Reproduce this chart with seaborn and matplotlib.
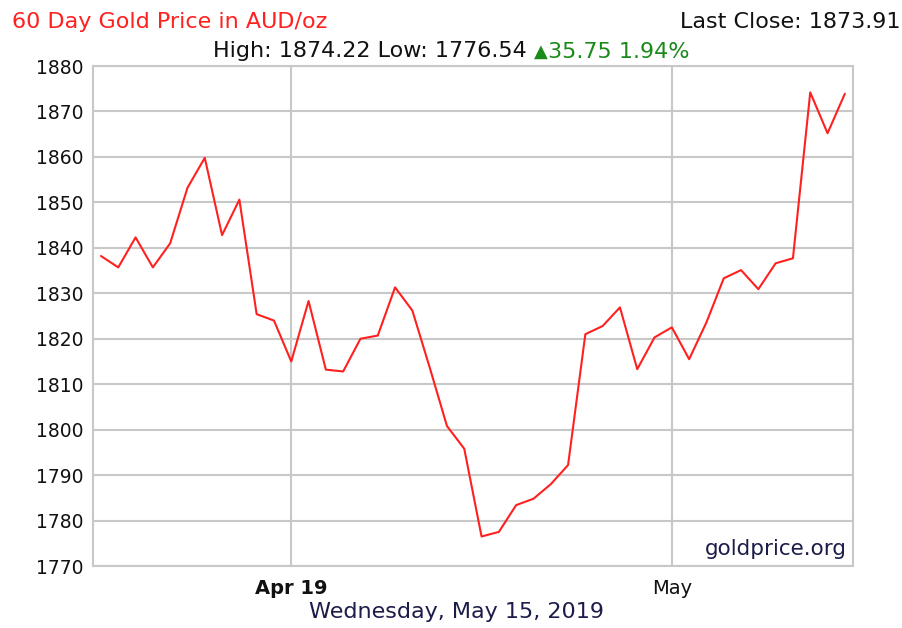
import numpy as np
import pandas as pd
import matplotlib
matplotlib.use("Agg")
import matplotlib.pyplot as plt
import seaborn as sns

# 价格数据
price = [1838.2, 1835.7, 1842.3, 1835.7, 1841.0, 1853.2, 1859.8, 1842.8, 1850.6, 1825.4,
         1824.0, 1815.0, 1828.3, 1813.2, 1812.8, 1820.0, 1820.7, 1831.3, 1826.2, 1813.7,
         1800.8, 1795.8, 1776.5, 1777.5, 1783.4, 1784.8, 1788.0, 1792.2, 1821.0, 1822.8,
         1826.9, 1813.3, 1820.3, 1822.5, 1815.5, 1823.6, 1833.3, 1835.1, 1830.9, 1836.6,
         1837.7, 1874.2, 1865.2, 1873.9]
day = list(range(len(price)))
tick_idx = [11, 33]
tick_labels = ["Apr 19", "May"]
y_ticks = list(range(1770, 1881, 10))

df = pd.DataFrame({"day": day, "price": price})

sns.set_style("white")
plt.rcParams["font.family"] = ["DejaVu Sans"]

grid_c = "#c8c8c8"
fig = plt.figure(figsize=(9.03, 6.28), dpi=100)
ax = fig.add_axes([0.103, 0.0987, 0.8416, 0.7962])

sns.lineplot(data=df, x="day", y="price", color="#ff2020", linewidth=1.5, ax=ax)

ax.set_xlim(-0.46, 43.47)
ax.set_ylim(1770, 1880)
ax.set_yticks(y_ticks)
ax.set_xticks(tick_idx)
ax.set_xticklabels(tick_labels, fontsize=14, color="#111111")
ax.get_xticklabels()[0].set_fontweight("bold")
ax.tick_params(axis="y", labelsize=13.5, labelcolor="#111111", length=4, color=grid_c, width=1.5, pad=3)
ax.tick_params(axis="x", length=5, color=grid_c, width=1.5, pad=4)
ax.grid(True, color=grid_c, linewidth=1.5)
ax.set_axisbelow(True)
for s in ax.spines.values():
    s.set_color(grid_c)
    s.set_linewidth(1.5)
ax.set_xlabel("")
ax.set_ylabel("")

ax.text(0.992, 0.015, "goldprice.org", transform=ax.transAxes, ha="right", va="bottom",
        fontsize=15.5, color="#1c1c4a")

# 标题
fig.text(0.013, 0.965, "60 Day Gold Price in AUD/oz", ha="left", va="center", fontsize=16, color="#ff2020")
fig.text(0.997, 0.965, "Last Close: 1873.91", ha="right", va="center", fontsize=16, color="#111111")

t1 = fig.text(0.236, 0.918, "High: 1874.22 Low: 1776.54 ", ha="left", va="center", fontsize=16, color="#111111")
t2 = ax.annotate("▲", xy=(1, 0.5), xycoords=t1, ha="left", va="center", fontsize=13, color="#1a8a1a")
ax.annotate("35.75 1.94%", xy=(1, 0.45), xycoords=t2, ha="left", va="center", fontsize=16, color="#1a8a1a")

fig.text(0.506, 0.025, "Wednesday, May 15, 2019", ha="center", va="center", fontsize=16, color="#1c1c4a")

fig.savefig("out.png", dpi=100)
